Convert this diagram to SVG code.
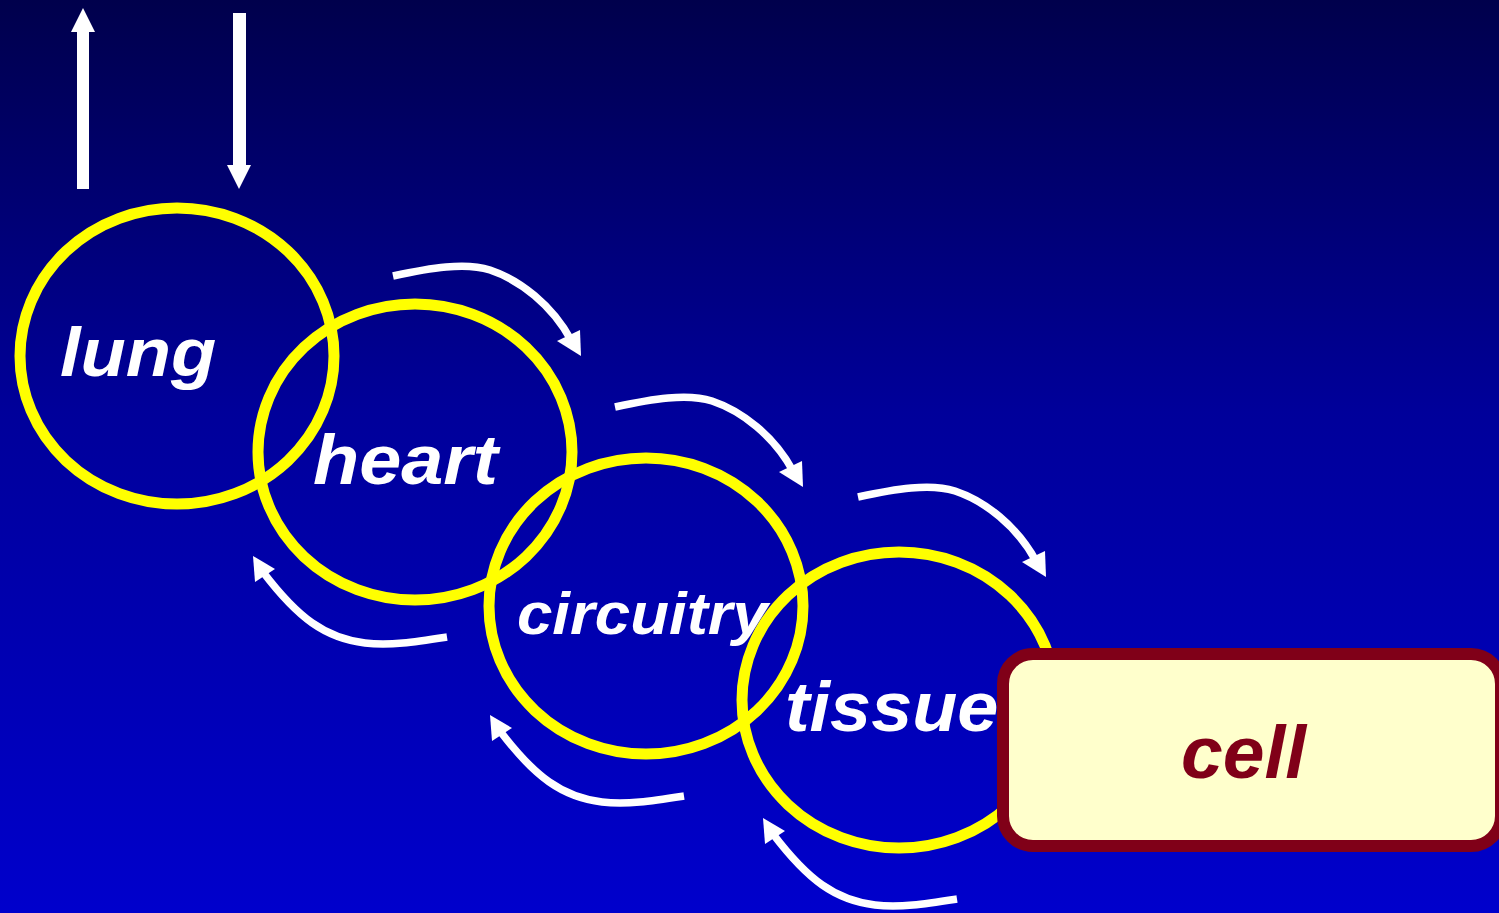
<svg xmlns="http://www.w3.org/2000/svg" xmlns:xlink="http://www.w3.org/1999/xlink" width="1499" height="913" viewBox="0 0 1499 913">
<style>
.ring{fill:none;stroke:#FFFF00;stroke-width:11}
.lbl{font-family:"Liberation Sans",Arial,sans-serif;font-weight:bold;font-style:italic;fill:#FFFFFF}
.cellbox{fill:#FFFFCC;stroke:#800018;stroke-width:12}
.cellt{font-family:"Liberation Sans",Arial,sans-serif;font-weight:bold;font-style:italic;fill:#800018}
.flow{fill:none;stroke:#FFFFFF;stroke-width:7.5}
.head{fill:#FFFFFF}
</style>
<defs>
<linearGradient id="bg" x1="0" y1="0" x2="0" y2="1">
<stop offset="0" stop-color="#00004C"/>
<stop offset="0.45" stop-color="#00009A"/>
<stop offset="1" stop-color="#0000CC"/>
</linearGradient>
<g id="fwd">
<path class="flow" d="M393,276 C430,268 465,262 490,270 C520,280 552,305 571,340"/>
<polygon class="head" points="557,341 580,330 581,356"/>
</g>
<g id="back">
<path class="flow" d="M447,637 C415,642 390,646 365,643 C325,638 298,618 263,572"/>
<polygon class="head" points="253,556 275,569 255,582"/>
</g>
</defs>
<rect x="0" y="0" width="1499" height="913" fill="url(#bg)"/>
<g id="connectors">
<g id="gas-out">
<rect x="77" y="30" width="12" height="159" fill="#FFFFFF"/>
<polygon class="head" points="71,32 95,32 83,8"/>
</g>
<g id="gas-in">
<rect x="233" y="13" width="13" height="154" fill="#FFFFFF"/>
<polygon class="head" points="227,165 251,165 239,189"/>
</g>
<use xlink:href="#fwd" href="#fwd"/>
<use xlink:href="#fwd" href="#fwd" transform="translate(222,131)"/>
<use xlink:href="#fwd" href="#fwd" transform="translate(465,221)"/>
<use xlink:href="#back" href="#back"/>
<use xlink:href="#back" href="#back" transform="translate(237,159)"/>
<use xlink:href="#back" href="#back" transform="translate(510,262)"/>
</g>
<g id="lung">
<ellipse class="ring" cx="177" cy="356" rx="157" ry="148"/>
<text class="lbl" font-size="68" transform="translate(60,376) scale(1.09,1)">lung</text>
</g>
<g id="heart">
<ellipse class="ring" cx="415" cy="452" rx="157" ry="148"/>
<text class="lbl" font-size="71" transform="translate(313,484) scale(1.065,1)">heart</text>
</g>
<g id="circuitry">
<ellipse class="ring" cx="646" cy="606" rx="157" ry="148"/>
<text class="lbl" font-size="60" transform="translate(517,634) scale(1.06,1)">circuitry</text>
</g>
<g id="tissue">
<ellipse class="ring" cx="899" cy="700" rx="157" ry="148"/>
<text class="lbl" font-size="70" transform="translate(785,731) scale(1.055,1)">tissue</text>
</g>
<g id="cell">
<rect class="cellbox" x="1003" y="654" width="498" height="192" rx="30" ry="30"/>
<text class="cellt" x="1181" y="778" font-size="75">cell</text>
</g>
</svg>
